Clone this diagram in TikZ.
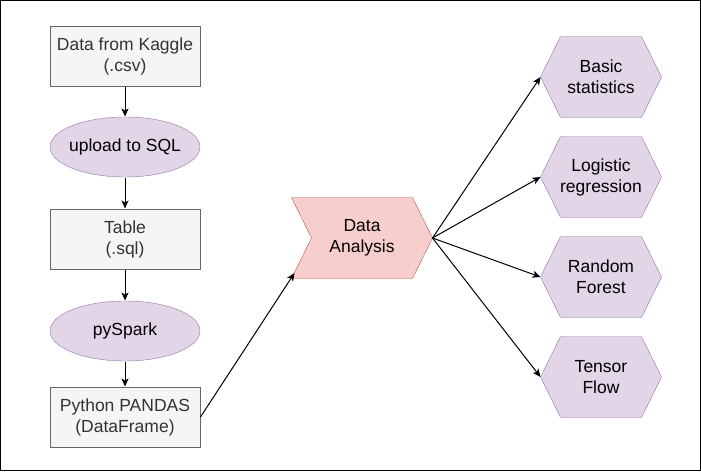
\documentclass[tikz,border=0pt]{standalone}
\usepackage{fontspec}
\setmainfont{Liberation Sans}
\usetikzlibrary{arrows.meta,backgrounds}
\definecolor{boxfill}{HTML}{F5F5F5}
\definecolor{boxline}{HTML}{666666}
\definecolor{boxtext}{HTML}{333333}
\definecolor{purfill}{HTML}{E1D5E7}
\definecolor{purline}{HTML}{9673A6}
\definecolor{redfill}{HTML}{F8CECC}
\definecolor{redline}{HTML}{B85450}
\tikzset{
  box/.style={rectangle, draw=boxline, fill=boxfill, text=boxtext, minimum width=150pt, minimum height=60pt, inner sep=0pt, align=center},
  ellnode/.style={rectangle, minimum width=150pt, minimum height=60pt, inner sep=0pt, align=center, text=black},
  ellshape/.style={draw=purline, fill=purfill},
  hexnode/.style={rectangle, minimum width=120pt, minimum height=80pt, inner sep=0pt, align=center, text=black},
  hexshape/.style={draw=purline, fill=purfill},
  danode/.style={rectangle, minimum width=140pt, minimum height=80pt, inner sep=0pt, align=center, text=black},
  dashape/.style={draw=redline, fill=redfill},
  arr/.style={draw=black, line width=1pt, -{Stealth[length=8pt,width=7pt,inset=2pt]}},
}
\begin{document}
\begin{tikzpicture}[x=1pt,y=-1pt, line width=1pt, font=\fontsize{17.5}{21}\selectfont]
\useasboundingbox (0,0) rectangle (701,471);
\draw[black, line width=1pt] (0.5,0.5) rectangle (700.5,470.5);

\node[box] (kaggle) at (125,56) {Data from Kaggle\\(.csv)};
\node[ellnode] (upload) at (125,147) {upload to SQL};
\node[box] (table) at (125,239) {Table\\(.sql)};
\node[ellnode] (spark) at (125,331) {pySpark};
\node[box] (pandas) at (125,417) {Python PANDAS\\(DataFrame)};

\node[danode] (da) at (362,238) {Data\\Analysis};

\node[hexnode] (h1) at (601,77) {Basic\\statistics};
\node[hexnode] (h2) at (601,177) {Logistic\\regression};
\node[hexnode] (h3) at (601,277) {Random\\Forest};
\node[hexnode] (h4) at (601,377) {Tensor\\Flow};

\begin{scope}[on background layer]
  \foreach \n in {upload,spark}
    \draw[ellshape] (\n.center) ellipse [x radius=75pt, y radius=30pt];
  \foreach \n in {h1,h2,h3,h4}
    \draw[hexshape] (\n.west) -- ([xshift=20pt]\n.north west) -- ([xshift=-20pt]\n.north east)
      -- (\n.east) -- ([xshift=-20pt]\n.south east) -- ([xshift=20pt]\n.south west) -- cycle;
  \draw[dashape] (da.north west) -- ([xshift=-20pt]da.north east) -- (da.east)
    -- ([xshift=-20pt]da.south east) -- (da.south west) -- ([xshift=20pt]da.west) -- cycle;
\end{scope}

\coordinate (daIn) at (294.5,273);

\draw[arr] (kaggle) -- (upload);
\draw[arr] (upload) -- (table);
\draw[arr] (table) -- (spark);
\draw[arr] (spark) -- (pandas);
\draw[arr] (pandas.east) -- (daIn);
\foreach \n in {h1,h2,h3,h4}
  \draw[arr] (da.east) -- (\n.west);
\end{tikzpicture}
\end{document}
